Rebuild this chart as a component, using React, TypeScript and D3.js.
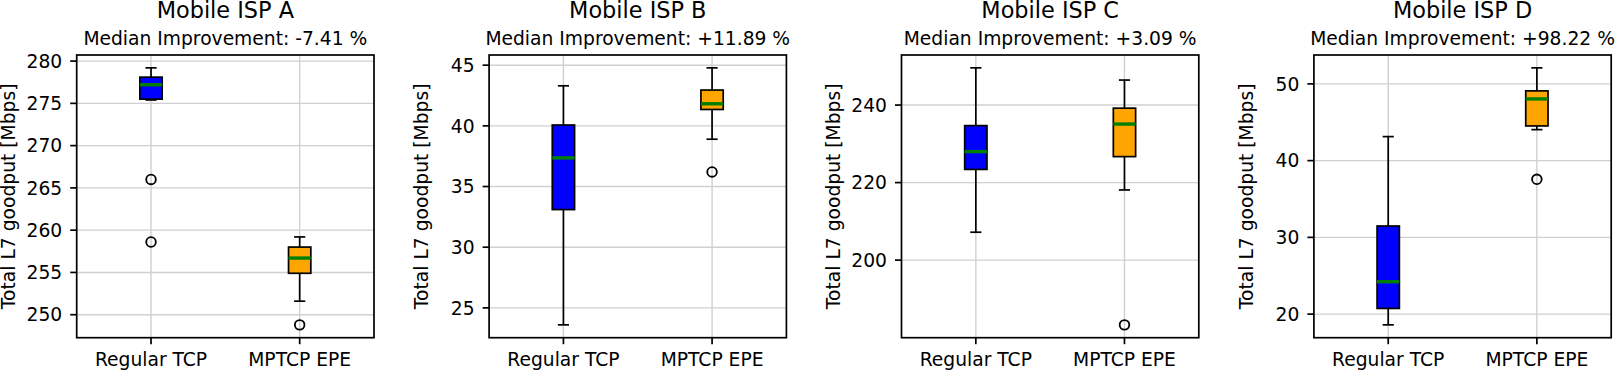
import React from 'react';
import * as d3 from 'd3';

// ISP panels and group labels
const ispNames = ['Mobile ISP A', 'Mobile ISP B', 'Mobile ISP C', 'Mobile ISP D'];
const medianImprovements = ['-7.41 %', '+11.89 %', '+3.09 %', '+98.22 %'];
const groups = ['Regular TCP', 'MPTCP EPE'];

// box stats per ISP: [whisker low, q1, median, q3, whisker high]
const regularTcpStats = [
  [275.4, 275.5, 277.2, 278.1, 279.2],
  [23.6, 33.1, 37.36, 40.07, 43.3],
  [207.2, 223.4, 228.0, 234.7, 249.6],
  [18.6, 20.74, 24.22, 31.48, 43.13],
];
const mptcpEpeStats = [
  [251.6, 254.9, 256.7, 258.0, 259.2],
  [38.9, 41.35, 41.82, 42.95, 44.78],
  [218.1, 226.7, 235.1, 239.2, 246.45],
  [44.04, 44.52, 48.04, 49.09, 52.09],
];
const regularTcpOutliers = [[266.0, 258.6], [], [], []];
const mptcpEpeOutliers = [[248.8], [36.2], [183.3], [37.57]];

const yTicks = [
  [250, 255, 260, 265, 270, 275, 280],
  [25, 30, 35, 40, 45],
  [200, 220, 240],
  [20, 30, 40, 50],
];

const boxColors = ['#0000ff', '#ffa500'];

const W = 1623;
const H = 370;
const FONT = 'DejaVu Sans, sans-serif';
const firstLeft = 76.7;
const panelStep = 412.4;
const axW = 297.3;
const top = 55;
const bottom = 337.7;
const LW = 1.7;

function Panel({ idx }: { idx: number }) {
  const left = firstLeft + idx * panelStep;
  const right = left + axW;
  const stats = [regularTcpStats[idx], mptcpEpeStats[idx]];
  const outliers = [regularTcpOutliers[idx], mptcpEpeOutliers[idx]];

  // matplotlib-style 5% margins around all data
  const all = [...stats[0], ...stats[1], ...outliers[0], ...outliers[1]];
  const [lo, hi] = d3.extent(all) as [number, number];
  const pad = (hi - lo) * 0.05;
  const y = d3.scaleLinear().domain([lo - pad, hi + pad]).range([bottom, top]);
  const x = d3.scalePoint<string>().domain(groups).range([left, right]).padding(0.5);
  const boxW = x.step() * 0.15;
  const capW = boxW / 2;
  const cx = (left + right) / 2;

  return (
    <g>
      <text x={cx} y={18} textAnchor="middle" fontSize={22.4} fill="#000">{ispNames[idx]}</text>
      <text x={cx} y={45} textAnchor="middle" fontSize={18.7} fill="#000">
        {'Median Improvement: ' + medianImprovements[idx]}
      </text>

      {/* grid */}
      {yTicks[idx].map(t => (
        <line key={'gy' + t} x1={left} x2={right} y1={y(t)} y2={y(t)} stroke="#d0d0d0" strokeWidth={1.4} />
      ))}
      {groups.map(g => (
        <line key={'gx' + g} x1={x(g)} x2={x(g)} y1={top} y2={bottom} stroke="#d0d0d0" strokeWidth={1.4} />
      ))}

      {/* boxes */}
      {groups.map((g, gi) => {
        const [wl, q1, med, q3, wh] = stats[gi];
        const px = x(g) as number;
        return (
          <g key={g}>
            <line x1={px} x2={px} y1={y(q3)} y2={y(wh)} stroke="#000" strokeWidth={LW} />
            <line x1={px} x2={px} y1={y(q1)} y2={y(wl)} stroke="#000" strokeWidth={LW} />
            <line x1={px - capW / 2} x2={px + capW / 2} y1={y(wh)} y2={y(wh)} stroke="#000" strokeWidth={LW} />
            <line x1={px - capW / 2} x2={px + capW / 2} y1={y(wl)} y2={y(wl)} stroke="#000" strokeWidth={LW} />
            <rect x={px - boxW / 2} y={y(q3)} width={boxW} height={y(q1) - y(q3)}
              fill={boxColors[gi]} stroke="#000" strokeWidth={LW} />
            <line x1={px - boxW / 2} x2={px + boxW / 2} y1={y(med)} y2={y(med)} stroke="#008000" strokeWidth={3.4} />
            {outliers[gi].map((o, oi) => (
              <circle key={oi} cx={px} cy={y(o)} r={4.8} fill="none" stroke="#000" strokeWidth={1.8} />
            ))}
          </g>
        );
      })}

      {/* frame */}
      <rect x={left} y={top} width={axW} height={bottom - top} fill="none" stroke="#000" strokeWidth={LW} />

      {/* y axis */}
      {yTicks[idx].map(t => (
        <g key={'ty' + t}>
          <line x1={left - 6.5} x2={left} y1={y(t)} y2={y(t)} stroke="#000" strokeWidth={LW} />
          <text x={left - 14.5} y={y(t)} dy="0.36em" textAnchor="end" fontSize={18.7} fill="#000">{t}</text>
        </g>
      ))}
      <text transform={`translate(${left - 61.3},${(top + bottom) / 2}) rotate(-90)`} textAnchor="middle"
        fontSize={18.7} fill="#000">Total L7 goodput [Mbps]</text>

      {/* x axis */}
      {groups.map(g => (
        <g key={'tx' + g}>
          <line x1={x(g)} x2={x(g)} y1={bottom} y2={bottom + 6.5} stroke="#000" strokeWidth={LW} />
          <text x={x(g)} y={366} textAnchor="middle" fontSize={18.7} fill="#000">{g}</text>
        </g>
      ))}
    </g>
  );
}

export default function App() {
  return (
    <div style={{ position: 'absolute', left: 0, top: 0, background: '#fff' }}>
      <svg width={W} height={H} fontFamily={FONT} style={{ display: 'block' }}>
        <rect width={W} height={H} fill="#fff" />
        {ispNames.map((_, i) => <Panel key={i} idx={i} />)}
      </svg>
    </div>
  );
}
